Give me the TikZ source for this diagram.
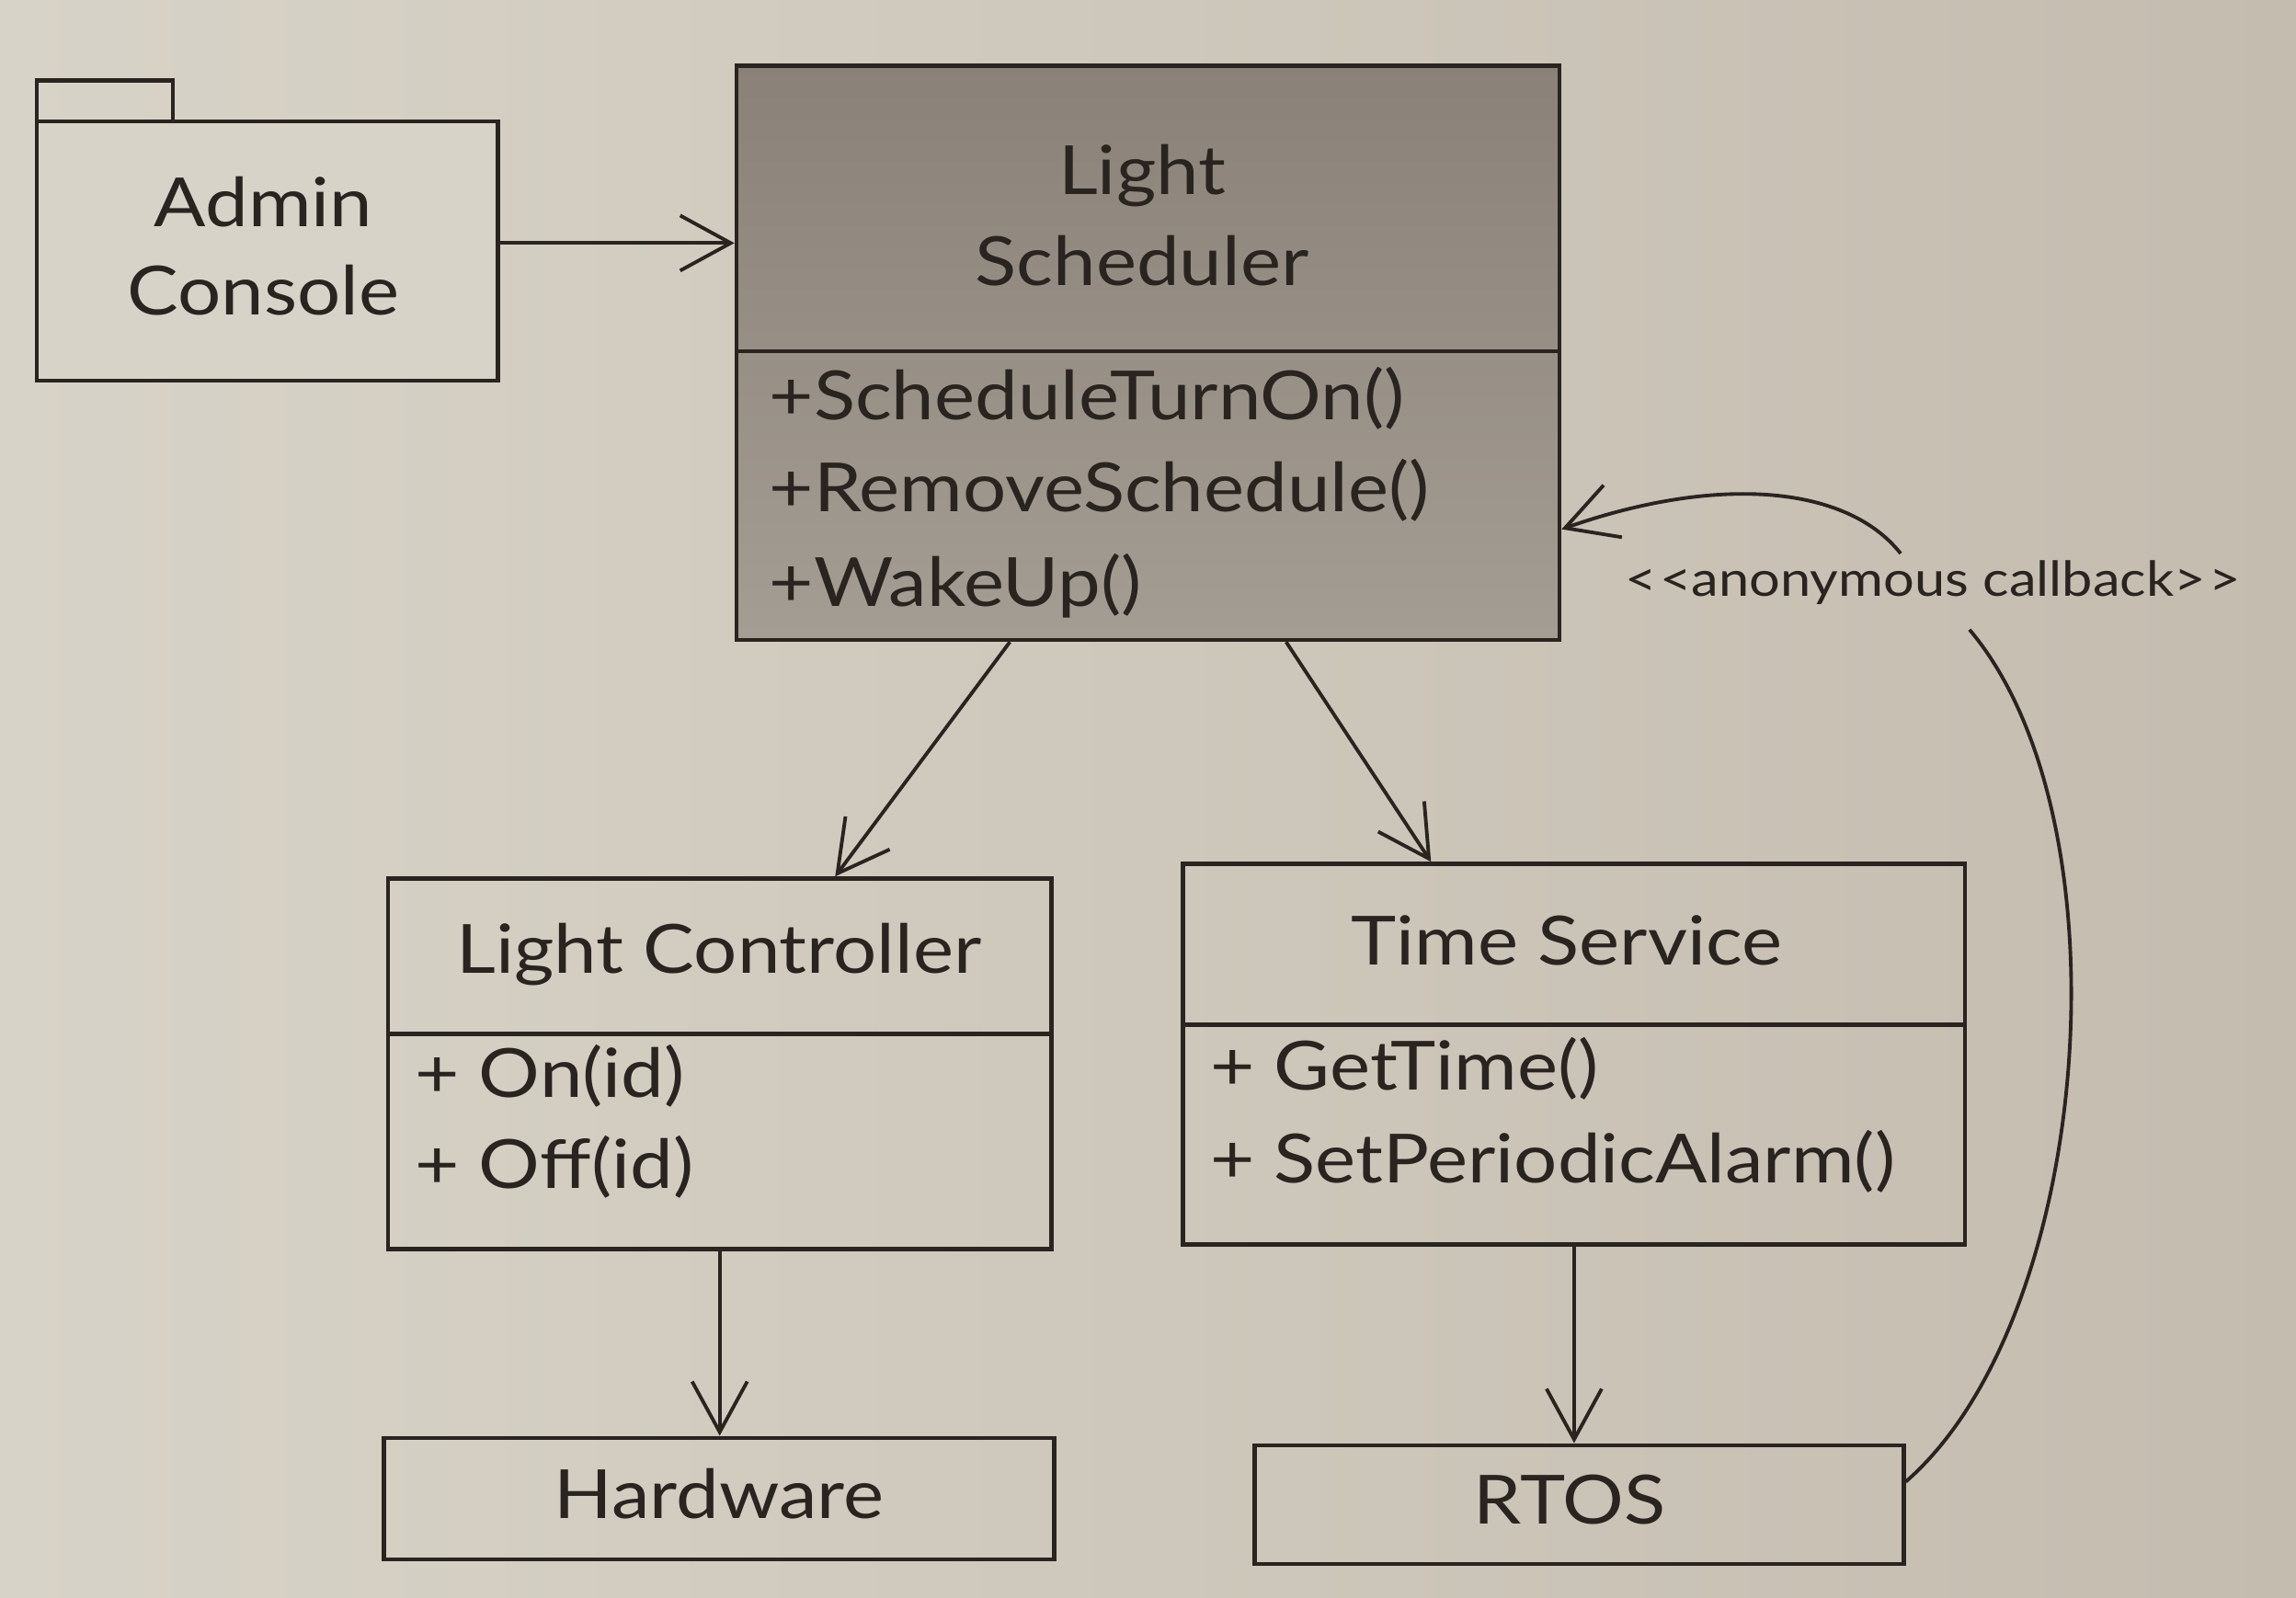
\documentclass[tikz,border=0pt]{standalone}
\usepackage{fontspec}
\setmainfont{Lato}[FakeStretch=1.13]
\usetikzlibrary{fit,arrows.meta,calc}
\definecolor{paperL}{RGB}{216,211,200}
\definecolor{paperR}{RGB}{196,188,175}
\definecolor{ink}{RGB}{42,36,32}
\definecolor{lsTop}{RGB}{138,130,120}
\definecolor{lsBot}{RGB}{164,157,147}
\tikzset{
  box/.style={draw=ink, line width=1.3pt, inner sep=0pt},
  divline/.style={draw=ink, line width=1.3pt},
  conn/.style={draw=ink, line width=1.1pt, -{Straight Barb[length=5.5mm,width=6mm,line width=1.1pt]}},
  plainconn/.style={draw=ink, line width=1.1pt},
  ttl/.style={text=ink, font=\fontsize{21}{25}\selectfont, inner sep=0pt},
  meth/.style={text=ink, font=\fontsize{21}{25}\selectfont, inner sep=0pt, anchor=west},
  small/.style={text=ink, font=\fontsize{15}{18}\selectfont, inner sep=0pt}
}
\begin{document}
\begin{tikzpicture}[x=0.015925cm, y=-0.015925cm]
\useasboundingbox (0,0) rectangle (1568,1091);
\shade[left color=paperL, right color=paperR] (0,0) rectangle (1568,1091);

% Admin Console package
\node[box, fit={(25,55) (118,85)}] (actab) {};
\node[box, fill=paperL, fit={(25,83) (340,260)}] (ac) {};
\node[ttl] (ac1) at (180,138) {Admin};
\node[ttl] (ac2) at (180,198) {Console};

% Light Scheduler
\node[box, top color=lsTop, bottom color=lsBot, fit={(503,45) (1065,437)}] (ls) {};
\draw[divline] (ls.west |- 0,240) -- (ls.east |- 0,240);
\node[ttl] (ls1) at (780,120) {Light};
\node[ttl] (ls2) at (780,178) {Scheduler};
\node[meth] (ls3) at (525,272) {+ScheduleTurnOn()};
\node[meth] (ls4) at (525,335) {+RemoveSchedule()};
\node[meth] (ls5) at (525,400) {+WakeUp()};

% Light Controller
\node[box, fit={(265,600) (718,853)}] (lc) {};
\draw[divline] (lc.west |- 0,706) -- (lc.east |- 0,706);
\node[ttl] (lc1) at (491,652) {Light Controller};
\node[meth] (lc2) at (283,735) {+ On(id)};
\node[meth] (lc3) at (283,797) {+ Off(id)};

% Time Service
\node[box, fit={(808,590) (1342,850)}] (ts) {};
\draw[divline] (ts.west |- 0,700) -- (ts.east |- 0,700);
\node[ttl] (ts1) at (1070,642) {Time Service};
\node[meth] (ts2) at (826,730) {+ GetTime()};
\node[meth] (ts3) at (826,793) {+ SetPeriodicAlarm()};

% Hardware, RTOS
\node[box, fit={(262,982) (720,1065)}] (hw) {};
\node[ttl] (hw1) at (491,1020) {Hardware};
\node[box, fit={(857,987) (1300,1068)}] (rtos) {};
\node[ttl] (rt1) at (1072,1024) {RTOS};

% callback label
\node[small] (cb) at (1320,398) {<\kern1pt<anonymous callback>\kern1pt>};
\coordinate (cbtop) at (1298,378);
\coordinate (cbbot) at (1345,430);

% connectors
\draw[conn] (ac.east |- 0,166) -- (ls.west |- 0,166);
\draw[conn] ($(ls.south west)!0.333!(ls.south east)$) -- ($(lc.north west)!0.673!(lc.north east)$);
\draw[conn] ($(ls.south west)!0.667!(ls.south east)$) -- ($(ts.north west)!0.318!(ts.north east)$);
\draw[conn] (lc.south) -- (lc.south |- hw.north);
\draw[conn] (ts.south) -- (ts.south |- rtos.north);
\draw[plainconn] (rtos.east |- 0,1012) .. controls (1430,900) and (1455,560) .. (cbbot);
\draw[conn] (cbtop) .. controls (1260,330) and (1170,325) .. ($(ls.north east)!0.805!(ls.south east)$);
\end{tikzpicture}
\end{document}
